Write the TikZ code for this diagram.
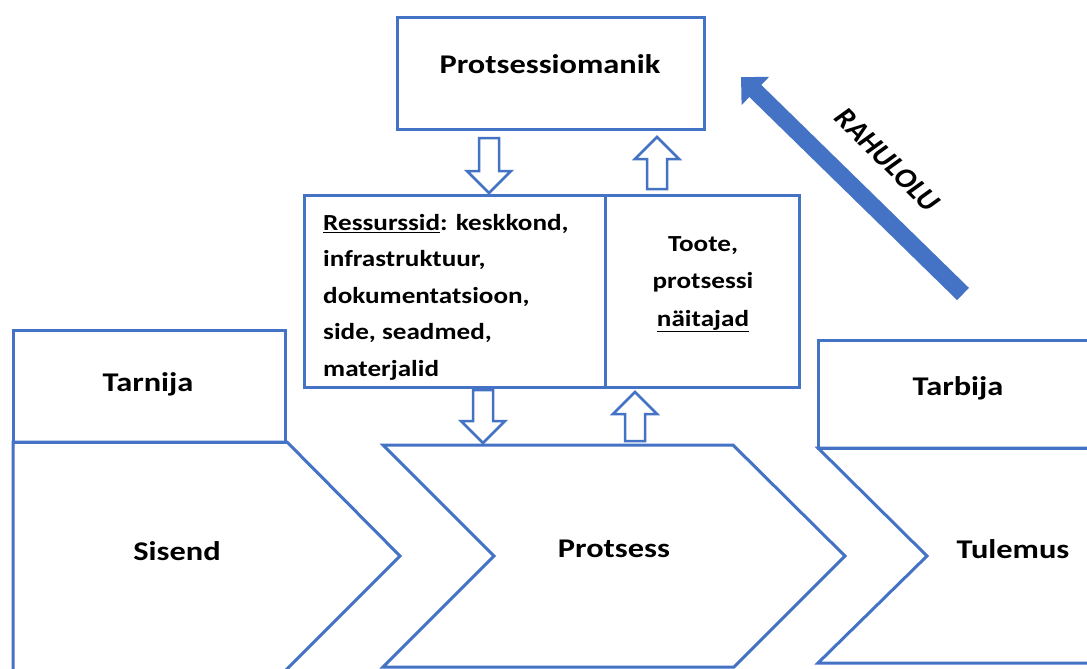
\documentclass[tikz,border=0pt]{standalone}
\usepackage{fontspec}
\setmainfont{Carlito}
\usetikzlibrary{arrows.meta}
\definecolor{lineblue}{HTML}{4472C4}
\tikzset{
  frame/.style={draw=lineblue, line width=3pt, line join=miter},
  boxnode/.style={frame, inner sep=0pt, outer sep=0pt},
  label/.style={font=\bfseries\fontsize{27}{32}\selectfont, xscale=1.2, inner sep=0pt, anchor=base},
  body/.style={font=\bfseries\fontsize{23}{36.5}\selectfont, xscale=1.18, inner sep=0pt},
  pics/hollowarrow/.style={code={
    \draw[draw=lineblue, line width=2.5pt, fill=white, line join=miter]
      (-10,0) -- (10,0) -- (10,{#1-22}) -- (22,{#1-22}) -- (0,#1)
      -- (-22,{#1-22}) -- (-10,{#1-22}) -- cycle;}},
}
\begin{document}
\begin{tikzpicture}[x=1pt,y=-1pt]
\useasboundingbox[fill=white] (0,0) rectangle (1087,669);
\clip (0,0) rectangle (1087,669);

% process owner
\node[boxnode, minimum width=307pt, minimum height=111pt] (owner) at (550.5,73.5) {};
\node[label] (ownerText) at (550,74) {Protsessiomanik};

% resources and indicators
\node[boxnode, minimum width=301pt, minimum height=192pt] (res) at (454.5,291) {};
\node[boxnode, minimum width=194pt, minimum height=192pt] (ind) at (702,291) {};
\node[body, anchor=north west, align=left] (resText) at (323,214)
  {\underline{Ressurssid}: keskkond,\\ infrastruktuur,\\ dokumentatsioon,\\ side, seadmed,\\ materjalid};
\node[body, anchor=north, align=center, font=\bfseries\fontsize{23}{37.5}\selectfont] (indText) at (703,236)
  {Toote,\\ protsessi\\ \underline{näitajad}};

% block arrows between owner, middle row and process
\pic (ownerDown) at (489,138) {hollowarrow=55};
\pic[yscale=-1] (ownerUp) at (657,189) {hollowarrow=52};
\pic (procDown) at (483,390) {hollowarrow=53};
\pic[yscale=-1] (procUp) at (635,441) {hollowarrow=49};

% supplier and input
\node[boxnode, minimum width=272pt, minimum height=112pt] (supplier) at (149,386) {};
\node[label] (supplierText) at (148,391) {Tarnija};
\draw[frame] (13,442) -- (287,442) -- (400,556) -- (266,690) -- (13,690) -- cycle;
\node[label] (inputText) at (177,560) {Sisend};

% process
\draw[frame] (383,445) -- (733,445) -- (845,556) -- (734,667) -- (383,667) -- (494,556) -- cycle;
\node[label] (procText) at (614,557) {Protsess};

% customer and result
\node[boxnode, minimum width=282pt, minimum height=108pt] (customer) at (959,394) {};
\node[label] (customerText) at (958,395) {Tarbija};
\draw[frame] (818,448) -- (1110,448) -- (1110,663) -- (818,663) -- (927,556) -- cycle;
\node[label] (resultText) at (1013,558) {Tulemus};

% satisfaction feedback
\coordinate (rahTail) at (963,294);
\coordinate (rahTip) at (741,77);
\draw[lineblue, line width=17pt, -{Triangle[width=38pt,length=20pt]}] (rahTail) -- (rahTip);
\begin{scope}[shift={(888,160)}, xscale=1.18]
  \node[transform shape, rotate=-49.7, inner sep=0pt, font=\bfseries\fontsize{27}{30}\selectfont] (rahText) at (0,0) {RAHULOLU};
\end{scope}
\end{tikzpicture}
\end{document}
